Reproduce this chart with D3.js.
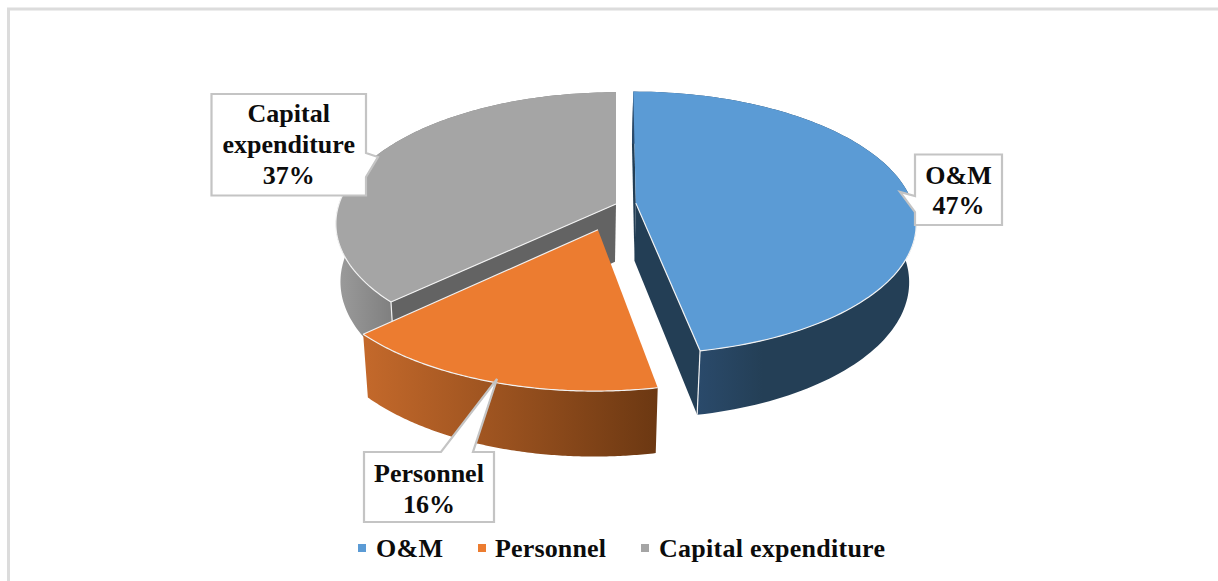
<!DOCTYPE html>
<html><head><meta charset="utf-8">
<script src="https://cdnjs.cloudflare.com/ajax/libs/d3/7.9.0/d3.min.js"></script>
<style>html,body{margin:0;padding:0;background:#fff}svg{display:block}text{font-family:"Liberation Serif",serif;font-weight:bold;fill:#0c0c0c}</style>
</head><body><svg id="c" width="1218" height="581"></svg>
<script>
const categories = ["O&M","Personnel","Capital expenditure"];
const shares = [47,16,37];
const explosion = [0.072,0.205,0];
const topColors = ["#5b9bd5","#ec7c30","#a5a5a5"];
const wallStops = [["#2a4a6b","#243f56"],["#c4692b","#6c3812"],["#9c9c9c","#7e7e7e"]];
const cutColors = ["#233e55",null,"#636363"];
const labelLines = [["O&M","47%"],["Personnel","16%"],["Capital","expenditure","37%"]];

const svg = d3.select("#c");
const view = {cx:616,cy:204,R:277,Ry:128.5,k:0.15,m:0.02,D:58.8,lowShift:-1};
const fmt = {size:26};

svg.append("rect").attr("x",8.5).attr("y",9).attr("width",1300).attr("height",700).attr("fill","#fff").attr("stroke","#dcdcdc").attr("stroke-width",3);

const pie = d3.pie().sort(null).value(d=>d)(shares);
function project(u,v,low){
  const den = 1 - view.k*v + (low?view.m:0);
  return [view.cx + (low?view.lowShift:0) + view.R*u/den, view.cy + (view.Ry*v + (low?view.D:0))/den];
}
const line = d3.line();
const defs = svg.append("defs");
const slices = pie.map((p,i)=>{
  const mid=(p.startAngle+p.endAngle)/2;
  const u0=explosion[i]*Math.sin(mid), v0=-explosion[i]*Math.cos(mid);
  const ang=d3.range(0,121).map(j=>p.startAngle+(p.endAngle-p.startAngle)*j/120);
  const at=(a,low)=>project(u0+Math.sin(a),v0-Math.cos(a),low);
  return {i,p,u0,v0,ang,at,apex:l=>project(u0,v0,l)};
});
function drawWall(s){
  const pts=s.ang.map(a=>s.at(a,false)).concat(s.ang.slice().reverse().map(a=>s.at(a,true)));
  const front=pts.filter(d=>d[1]>s.apex(false)[1]+20);
  const gid="w"+s.i;
  const g=defs.append("linearGradient").attr("id",gid).attr("gradientUnits","userSpaceOnUse")
    .attr("x1",d3.min(front,d=>d[0])).attr("x2",d3.max(front,d=>d[0])).attr("y1",0).attr("y2",0);
  g.append("stop").attr("offset",0).attr("stop-color",wallStops[s.i][0]);
  g.append("stop").attr("offset",s.i==0?0.3:1).attr("stop-color",wallStops[s.i][1]);
  svg.append("path").attr("d",line(pts)+"Z").attr("fill",`url(#${gid})`);
}
function drawCut(s,a){
  if(!cutColors[s.i])return;
  const pts=[s.apex(false),s.at(a,false),s.at(a,true),s.apex(true)];
  svg.append("path").attr("d",line(pts)+"Z").attr("fill",cutColors[s.i]);
}
function drawTop(s){
  const pts=[s.apex(false)].concat(s.ang.map(a=>s.at(a,false)));
  svg.append("path").attr("d",line(pts)+"Z").attr("fill",topColors[s.i]);
}
function edges(s,list){
  list.forEach(seg=>svg.append("path").attr("d",line(seg)).attr("fill","none").attr("stroke","#f2f2f2").attr("stroke-width",1.2));
}
const [om,pe,ca]=slices;
// capital
drawWall(ca); drawCut(ca,ca.p.startAngle); drawTop(ca);
edges(ca,[[ca.apex(false),ca.at(ca.p.startAngle,false)],
  ca.ang.filter(a=>a<ca.p.startAngle+1.05).map(a=>ca.at(a,false)),
  [ca.at(ca.p.startAngle,false),ca.at(ca.p.startAngle,true)]]);
// O&M
drawCut(om,om.p.endAngle); drawCut(om,om.p.startAngle); drawWall(om); drawTop(om);
edges(om,[[om.apex(false),om.at(om.p.endAngle,false)],
  om.ang.filter(a=>a>1.55).map(a=>om.at(a,false)),
  [om.at(om.p.endAngle,false),om.at(om.p.endAngle,true)]]);
// Personnel
drawWall(pe); drawTop(pe);
edges(pe,[pe.ang.map(a=>pe.at(a,false)),[pe.apex(false),pe.at(pe.p.endAngle,false)]]);

// callouts
const boxes=[
 {x:915,y:154.5,w:87,h:70.5,tip:[900,192],b:[[915,196],[915,212]],ly:[184,214]},
 {x:364,y:452,w:130,h:70,tip:[497,379],b:[[441,452],[473,452]],ly:[482,513]},
 {x:211.5,y:94,w:154.5,h:101.5,tip:[378,157],b:[[366,153],[366,177]],ly:[122,153,184]}
];
boxes.forEach((b,i)=>{
  const x0=b.x,x1=b.x+b.w,y0=b.y,y1=b.y+b.h;
  let pts;
  if(i===1) pts=[[x0,y0],b.b[0],b.tip,b.b[1],[x1,y0],[x1,y1],[x0,y1]];
  else if(i===0) pts=[[x0,y0],[x1,y0],[x1,y1],[x0,y1],b.b[1],b.tip,b.b[0]];
  else pts=[[x0,y0],[x1,y0],b.b[0],b.tip,b.b[1],[x1,y1],[x0,y1]];
  svg.append("path").attr("d",line(pts)+"Z").attr("fill","#fff").attr("stroke","#c4c4c4").attr("stroke-width",2.2);
  labelLines[i].forEach((t,j)=>svg.append("text").attr("x",(x0+x1)/2).attr("y",b.ly[j]).attr("text-anchor","middle").attr("font-size",fmt.size).text(t));
});

// legend
const legendX=d3.scaleOrdinal().domain(categories).range([358,478,641]);
const legendTx=d3.scaleOrdinal().domain(categories).range([376,495,659]);
const legendW=d3.scaleOrdinal().domain(categories).range([67,111,226]);
categories.forEach((c,i)=>{
  svg.append("rect").attr("x",legendX(c)).attr("y",544).attr("width",8).attr("height",8).attr("fill",topColors[i]);
  svg.append("text").attr("x",legendTx(c)).attr("y",556.5).attr("font-size",fmt.size).attr("textLength",legendW(c)).attr("lengthAdjust","spacing").text(c);
});
</script></body></html>
